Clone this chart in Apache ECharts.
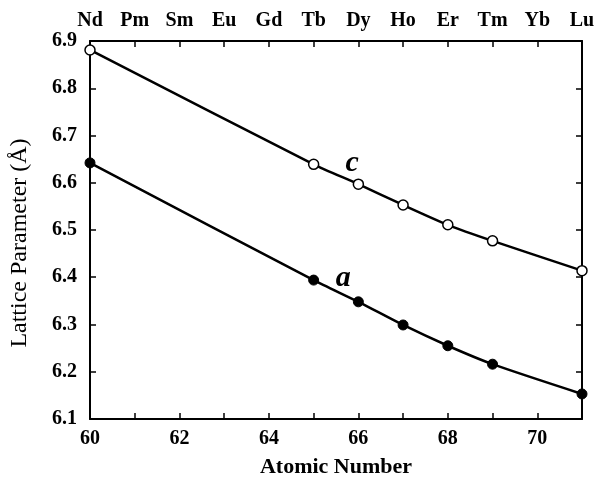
<!DOCTYPE html>
<html>
<head>
<meta charset="utf-8">
<script src="https://cdn.jsdelivr.net/npm/echarts@6/dist/echarts.min.js"></script>
<style>
  html, body { margin: 0; padding: 0; background: #fff; }
  #chart { width: 596px; height: 483px; }
</style>
</head>
<body>
<div id="chart"></div>
<script>
// atomic numbers and element symbols for the top axis
const atomicNumbers = [60, 65, 66, 67, 68, 69, 71]
const elements = ['Nd', 'Pm', 'Sm', 'Eu', 'Gd', 'Tb', 'Dy', 'Ho', 'Er', 'Tm', 'Yb', 'Lu']
const cValues = [6.881, 6.639, 6.597, 6.553, 6.511, 6.477, 6.414]
const aValues = [6.642, 6.394, 6.348, 6.299, 6.255, 6.216, 6.153]
const seriesLabels = [
  { text: 'c', at: [65.86, 6.642] },
  { text: 'a', at: [65.66, 6.398] }
]

const font = 'Liberation Serif'
const chart = echarts.init(document.getElementById('chart'))

const pairs = vals => atomicNumbers.map((x, i) => [x, vals[i]])

chart.setOption({
  backgroundColor: '#fff',
  animation: false,
  grid: { left: 90, right: 14, top: 41, bottom: 64, outerBoundsMode: 'none' },
  xAxis: [{
    type: 'value',
    position: 'bottom',
    min: 60, max: 71, interval: 1,
    name: 'Atomic Number',
    nameLocation: 'middle',
    nameGap: 37,
    nameTextStyle: { fontFamily: font, fontWeight: 'bold', fontSize: 22, color: '#000' },
    axisLine: { lineStyle: { color: '#000', width: 2 } },
    axisTick: { inside: true, length: 6, lineStyle: { color: '#000', width: 1.5 } },
    axisLabel: {
      margin: 10,
      fontFamily: font, fontWeight: 'bold', fontSize: 20, color: '#000',
      formatter: v => (v % 2 === 0 ? String(v) : '')
    },
    splitLine: { show: false }
  }, {
    type: 'value',
    position: 'top',
    min: 60, max: 71, interval: 1,
    axisLine: { lineStyle: { color: '#000', width: 2 } },
    axisTick: { inside: true, length: 6, lineStyle: { color: '#000', width: 1.5 } },
    axisLabel: {
      margin: 10,
      fontFamily: font, fontWeight: 'bold', fontSize: 20, color: '#000',
      formatter: v => elements[v - 60] || ''
    },
    splitLine: { show: false }
  }],
  yAxis: [{
    type: 'value',
    position: 'left',
    min: 6.1, max: 6.9, interval: 0.1,
    name: 'Lattice Parameter (Å)',
    nameLocation: 'middle',
    nameGap: 58,
    nameTextStyle: {
      fontFamily: font, fontWeight: 'normal', fontSize: 24, color: '#000',
      padding: [0, 26, 0, 0]
    },
    axisLine: { show: true, lineStyle: { color: '#000', width: 2 } },
    axisTick: { show: true, inside: true, length: 6, lineStyle: { color: '#000', width: 1.5 } },
    axisLabel: {
      margin: 13,
      fontFamily: font, fontWeight: 'bold', fontSize: 20, color: '#000',
      formatter: v => v.toFixed(1)
    },
    splitLine: { show: false }
  }, {
    type: 'value',
    position: 'right',
    min: 6.1, max: 6.9, interval: 0.1,
    axisLine: { show: true, lineStyle: { color: '#000', width: 2 } },
    axisTick: { show: true, inside: true, length: 6, lineStyle: { color: '#000', width: 1.5 } },
    axisLabel: { show: false },
    splitLine: { show: false }
  }],
  series: [{
    name: 'c',
    type: 'line',
    data: pairs(cValues),
    smooth: 0.25,
    symbol: 'circle',
    symbolSize: 10,
    lineStyle: { color: '#000', width: 2.5 },
    itemStyle: { color: '#fff', borderColor: '#000', borderWidth: 1.5 },
    z: 3
  }, {
    name: 'a',
    type: 'line',
    data: pairs(aValues),
    smooth: 0.25,
    symbol: 'circle',
    symbolSize: 10,
    lineStyle: { color: '#000', width: 2.5 },
    itemStyle: { color: '#000', borderColor: '#000', borderWidth: 1 },
    z: 3
  }, {
    name: 'labels',
    type: 'scatter',
    symbolSize: 0,
    itemStyle: { opacity: 1 },
    data: seriesLabels.map(l => ({ value: l.at, name: l.text })),
    label: {
      show: true,
      position: 'inside',
      formatter: p => p.name,
      fontFamily: font, fontStyle: 'italic', fontWeight: 'bold', fontSize: 30, color: '#000'
    },
    silent: true
  }]
})
</script>
</body>
</html>
